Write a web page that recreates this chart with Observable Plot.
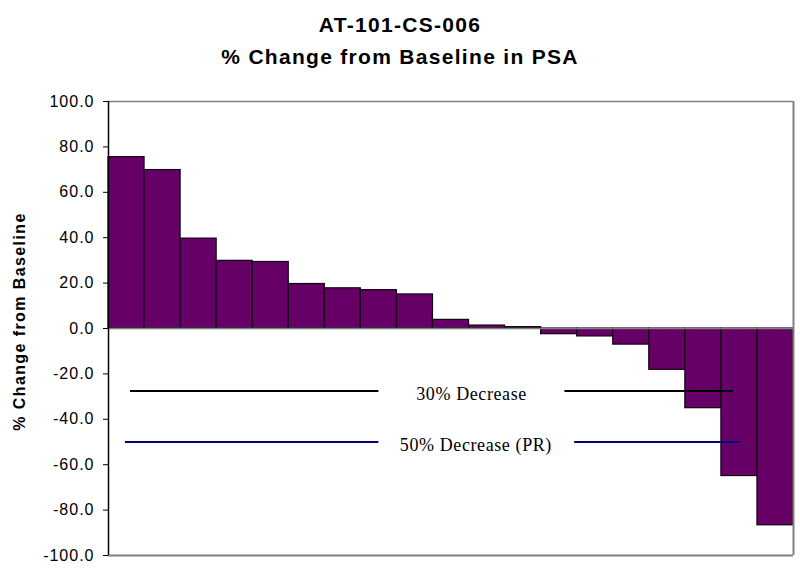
<!DOCTYPE html>
<html>
<head>
<meta charset="utf-8">
<script src="https://cdn.jsdelivr.net/npm/d3@7"></script>
<script src="https://cdn.jsdelivr.net/npm/@observablehq/plot@0.6"></script>
<style>
  html, body { margin: 0; padding: 0; background: #fff; }
  #wrap { position: relative; width: 800px; height: 568px; }
  .title { position: absolute; left: 0; width: 800px; text-align: center;
           font-family: "Liberation Sans", Arial, sans-serif; font-weight: bold;
           font-size: 21px; letter-spacing: 1.3px; color: #000; line-height: 1; }
  #chart { position: absolute; left: 0; top: 70px; }
</style>
</head>
<body>
<div id="wrap">
  <div class="title" style="top:14px">AT-101-CS-006</div>
  <div class="title" style="top:46px">% Change from Baseline in PSA</div>
  <div id="chart"></div>
</div>
<script>
// Data (patients sorted by % change in PSA)
const patients = d3.range(1, 20);
const pctChange = [75.5, 69.8, 39.6, 29.8, 29.3, 19.6, 17.7, 16.9, 15.0, 3.8,
                   1.3, 0.6, -2.5, -3.5, -7.1, -18.2, -35.1, -65.0, -86.7];
const yTicks = [-100, -80, -60, -40, -20, 0, 20, 40, 60, 80, 100];

// Reference threshold lines (drawn as two segments around the label)
const refLabels = ["30% Decrease", "50% Decrease (PR)"];
const refValues = [-27.5, -50];
const refColors = ["#000000", "#000080"];
const refLeftStart = [0.61, 0.47];
const refLeftEnd = [7.5, 7.5];
const refRightStart = [12.66, 12.93];
const refRightEnd = [17.33, 17.53];
const refLabelX = [10.07, 10.19];

const bars = patients.map((p, i) => ({p, i, v: pctChange[i]}));
const refs = refLabels.map((label, k) => ({
  label, v: refValues[k], color: refColors[k],
  a1: refLeftStart[k], a2: refLeftEnd[k], b1: refRightStart[k], b2: refRightEnd[k], lx: refLabelX[k]
}));

const chart = Plot.plot({
  width: 800,
  height: 498,
  marginTop: 31,
  marginBottom: 13,
  marginLeft: 108,
  marginRight: 7,
  style: {fontFamily: "'Liberation Sans', Arial, sans-serif", fontSize: "16px", background: "#fff"},
  x: {domain: [0, patients.length], axis: null},
  y: {domain: [-100, 100]},
  marks: [
    Plot.rectY(bars, {x1: d => d.i, x2: d => d.i + 1, y1: 0, y2: "v",
      fill: "#660066", stroke: "#140014", strokeWidth: 1.2}),
    Plot.ruleY([0], {stroke: "#808080", strokeWidth: 1.5}),
    Plot.ruleY([100], {stroke: "#808080", strokeWidth: 1.5}),
    Plot.ruleY([-100], {stroke: "#808080", strokeWidth: 2}),
    Plot.ruleX([patients.length], {stroke: "#808080", strokeWidth: 2}),
    Plot.ruleY(refs, {y: "v", x1: "a1", x2: "a2", stroke: "color", strokeWidth: 2}),
    Plot.ruleY(refs, {y: "v", x1: "b1", x2: "b2", stroke: "color", strokeWidth: 2}),
    Plot.text(refs, {x: "lx", y: "v", text: "label", dy: 3,
      fontFamily: "'Liberation Serif', 'Times New Roman', serif", fontSize: 18,
      fill: "#000", textAnchor: "middle", lineAnchor: "middle"}),
    Plot.axisY({ticks: yTicks, tickFormat: d => d.toFixed(1), tickSize: 5, tickPadding: 9,
      label: null, fontSize: 16, color: "#000"}),
    Plot.ruleX([0], {stroke: "#000", strokeWidth: 1.5}),
    Plot.text(["% Change from Baseline"], {frameAnchor: "left", rotate: -90, dx: -89, dy: -7,
      fontWeight: "bold", fontSize: 16, textAnchor: "middle", lineAnchor: "middle", fill: "#000"})
  ]
});
d3.select(chart).selectAll("g[aria-label='y-axis tick label'] text, g[aria-label='y-axis tick label']")
  .style("letter-spacing", "1px");
d3.select(chart).selectAll("g[aria-label='text'] text").filter(function() {
  return this.textContent === "% Change from Baseline";
}).style("letter-spacing", "1.4px");
d3.select(chart).selectAll("g[aria-label='text'] text").filter(function() {
  return this.textContent.indexOf("Decrease") >= 0;
}).style("letter-spacing", "0.6px");
document.getElementById("chart").appendChild(chart);
</script>
</body>
</html>
